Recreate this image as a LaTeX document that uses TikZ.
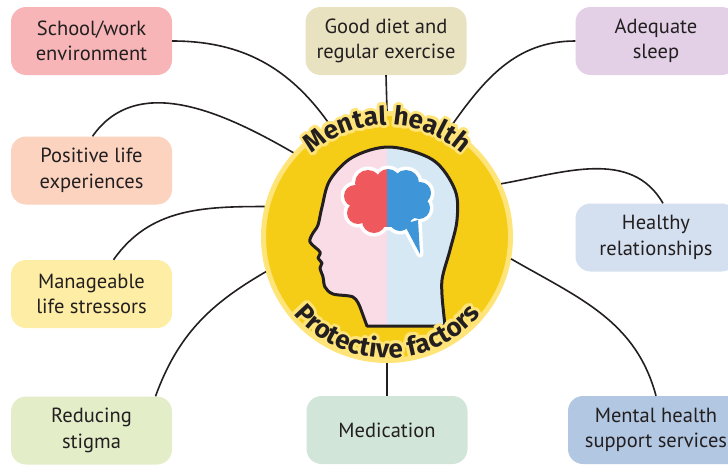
\documentclass[tikz,border=0pt]{standalone}
\usepackage{fontspec}
\setmainfont{PT Sans}
\newfontfamily\badgefont{Fira Sans}
\usetikzlibrary{decorations.text}

\definecolor{ink}{HTML}{231F20}
\definecolor{schoolpink}{HTML}{F7B5B7}
\definecolor{dietbeige}{HTML}{E8E2C1}
\definecolor{sleeplilac}{HTML}{E3D0E7}
\definecolor{lifepeach}{HTML}{FBD3BF}
\definecolor{relblue}{HTML}{D4E0EF}
\definecolor{stressyellow}{HTML}{FDEDA5}
\definecolor{stigmagreen}{HTML}{E3EEC9}
\definecolor{medmint}{HTML}{D1E6D9}
\definecolor{supportblue}{HTML}{B2C7E2}
\definecolor{hubyellow}{HTML}{F5CD17}
\definecolor{halo}{HTML}{FFE47A}
\definecolor{headpink}{HTML}{F9DCE6}
\definecolor{headblue}{HTML}{D7E8F5}
\definecolor{brainred}{HTML}{EF585D}
\definecolor{brainblue}{HTML}{3E96D9}

\newcommand\badgetext{\badgefont\bfseries\fontsize{26}{26}\selectfont}

\begin{document}
\begin{tikzpicture}[x=1pt, y=1pt,
        factor/.style={rectangle, rounded corners=15pt, minimum width=161pt,
                       minimum height=68pt, align=center, inner sep=0pt,
                       text=ink, font=\fontsize{20.5}{25.5}\selectfont},
        link/.style={draw=ink, line width=1.6pt}
    ]
    \useasboundingbox (0,0) rectangle (728,-466);

    % factor boxes
    \node[factor, fill=schoolpink]   (school)   at (91.5,-41)  {School/work\\environment};
    \node[factor, fill=dietbeige]    (diet)     at (386,-41)   {Good diet and\\regular exercise};
    \node[factor, fill=sleeplilac]   (sleep)    at (656,-41)   {Adequate\\sleep};
    \node[factor, fill=lifepeach]    (positive) at (91.5,-170.5) {Positive life\\experiences};
    \node[factor, fill=relblue]      (healthy)  at (656,-237.5) {Healthy\\relationships};
    \node[factor, fill=stressyellow] (manage)   at (91.5,-294) {Manageable\\life stressors};
    \node[factor, fill=stigmagreen]  (stigma)   at (91.5,-430.5) {Reducing\\stigma};
    \node[factor, fill=medmint]      (med)      at (387,-430)  {Medication};
    \node[factor, fill=supportblue, minimum width=176pt] (support) at (656,-430) {Mental health\\support services};

    % badge in the middle
    \node[circle, fill=hubyellow, draw=halo, line width=5pt, minimum size=247pt,
          inner sep=0pt] (hub) at (387,-237) {};

    % connectors
    \draw[link] (school.east) to[out=0, in=125] (hub.117);
    \draw[link] (diet.south) -- (hub.north);
    \draw[link] (sleep.west) to[out=180, in=55] (hub.60);
    \draw[link] ([xshift=1pt]positive.north) to[out=55, in=150] (hub.138);
    \draw[link] ([xshift=7pt]healthy.north) to[out=120, in=10] (hub.25);
    \draw[link] ([xshift=22pt]manage.north) to[out=55, in=180] (hub.166);
    \draw[link] ([xshift=64pt]stigma.north) to[out=70, in=210] (hub.196);
    \draw[link] (hub.south) -- (med.north);
    \draw[link] (hub.350) to[out=-30, in=105] (support.north);

    % head
    \path[save path=\headpath] (367,-326) -- plot[smooth, tension=0.55] coordinates {
        (360,-307) (353,-297) (333,-294) (325,-287) (323,-277) (320,-268)
        (322,-263) (318,-258) (320,-252) (310,-242) (313,-233) (318,-225)
        (322,-207) (330,-180) (353,-157) (390,-147) (433,-160) (455,-190)
        (457,-220) (450,-250) (442,-280) (443,-307)} -- (445,-326) -- cycle;
    \fill[headpink, use path=\headpath];
    \begin{scope}
        \clip (387,-120) rectangle (480,-340);
        \fill[headblue, use path=\headpath];
    \end{scope}

    % brain: a cloud of lobes with a white rim
    \def\lobes{368/183/13, 388/181/12, 406/183/13, 420/193/11, 355/196/11,
               358/213/11, 374/221/12, 400/220/11, 419/208/11}
    \def\tail{(404,-224) -- (420,-254) -- (418,-220) -- cycle}
    \fill[white] (387,-201) ellipse[x radius=39.5, y radius=29.5];
    \foreach \x/\y/\r in \lobes
        \fill[white] (\x,-\y) circle[radius=\r+3.5];
    \fill[white, draw=white, line width=7pt, line join=round] (404,-224) -- (420,-254) -- (418,-220) -- cycle;
    \begin{scope}
        \clip (300,-140) rectangle (387,-260);
        \fill[brainred] (387,-201) ellipse[x radius=36, y radius=26];
        \foreach \x/\y/\r in \lobes
            \fill[brainred] (\x,-\y) circle[radius=\r];
    \end{scope}
    \begin{scope}
        \clip (387,-140) rectangle (470,-260);
        \fill[brainblue] (387,-201) ellipse[x radius=36, y radius=26];
        \foreach \x/\y/\r in \lobes
            \fill[brainblue] (\x,-\y) circle[radius=\r];
        \fill[brainblue, line join=round] (404,-224) -- (420,-254) -- (418,-220) -- cycle;
    \end{scope}
    \draw[ink, line width=3pt, line join=round, use path=\headpath];

    % lettering round the badge
    \foreach \a in {0,30,...,330} {
        \path[shift={(\a:3)}, decorate, decoration={text along path, text align=center,
              text={|\badgetext\color{halo}|Mental health}}]
            ([shift={(160:112)}]387,-237) arc[start angle=160, end angle=20, radius=112];
        \path[shift={(\a:3)}, decorate, decoration={text along path, text align=center,
              text={|\badgetext\color{halo}|Protective factors}}]
            ([shift={(200:121)}]387,-237) arc[start angle=200, end angle=340, radius=121];
    }
    \path[decorate, decoration={text along path, text align=center,
          text={|\badgetext\color{ink}|Mental health}}]
        ([shift={(160:112)}]387,-237) arc[start angle=160, end angle=20, radius=112];
    \path[decorate, decoration={text along path, text align=center,
          text={|\badgetext\color{ink}|Protective factors}}]
        ([shift={(200:121)}]387,-237) arc[start angle=200, end angle=340, radius=121];
\end{tikzpicture}
\end{document}
